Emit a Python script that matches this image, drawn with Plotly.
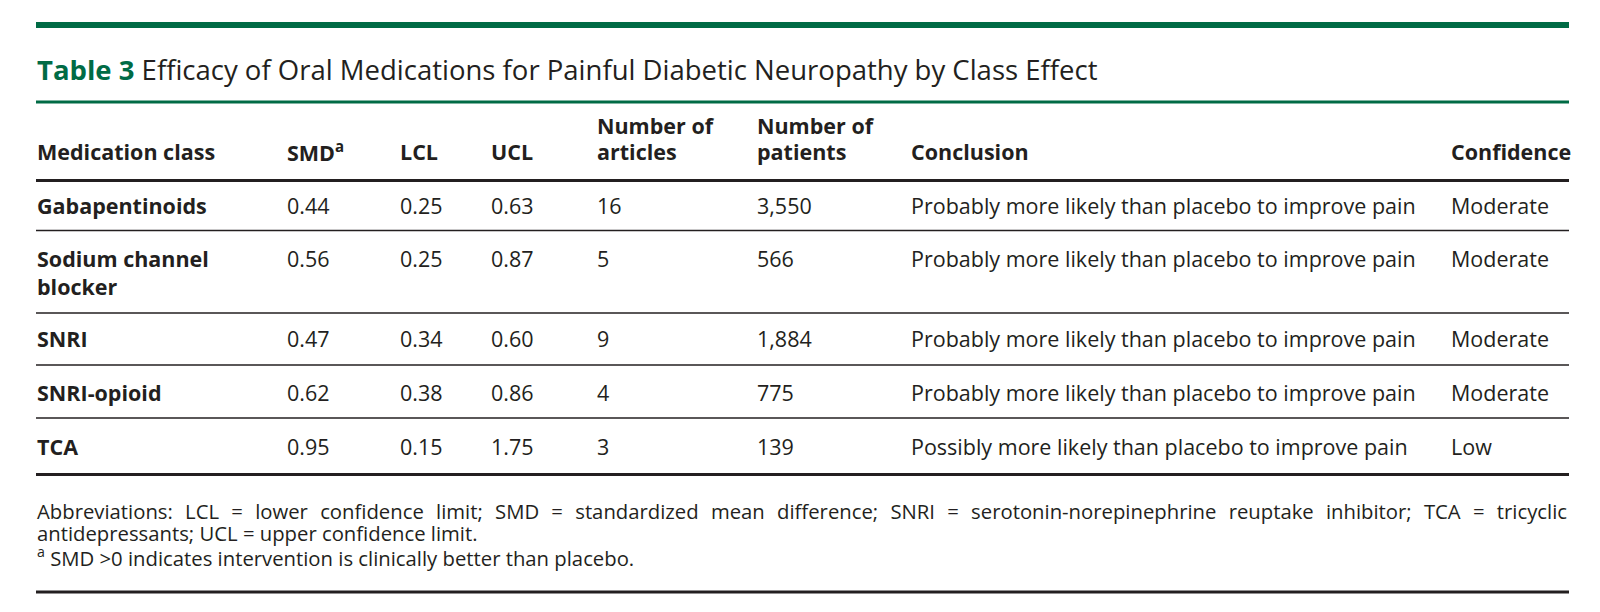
import plotly.graph_objects as go

# ---- data ----
title_label = "Table 3"
title_text = "Efficacy of Oral Medications for Painful Diabetic Neuropathy by Class Effect"
headers = ["Medication class", "SMD<sup>a</sup>", "LCL", "UCL", "Number of<br>articles",
           "Number of<br>patients", "Conclusion", "Confidence"]
med_class = ["Gabapentinoids", "Sodium channel<br>blocker", "SNRI", "SNRI-opioid", "TCA"]
smd = ["0.44", "0.56", "0.47", "0.62", "0.95"]
lcl = ["0.25", "0.25", "0.34", "0.38", "0.15"]
ucl = ["0.63", "0.87", "0.60", "0.86", "1.75"]
n_articles = ["16", "5", "9", "4", "3"]
n_patients = ["3,550", "566", "1,884", "775", "139"]
conclusion = ["Probably more likely than placebo to improve pain"] * 4 + \
             ["Possibly more likely than placebo to improve pain"]
confidence = ["Moderate", "Moderate", "Moderate", "Moderate", "Low"]
footnotes = [
    "Abbreviations: LCL = lower confidence limit; SMD = standardized mean difference; SNRI = serotonin-norepinephrine reuptake inhibitor; TCA = tricyclic",
    "antidepressants; UCL = upper confidence limit.",
    "<sup>a</sup> SMD >0 indicates intervention is clinically better than placebo.",
]

# ---- layout constants ----
W, H = 1600, 612
OFF = 8  # default page body margin
FONT = "Open Sans"
GREEN = "#006b45"
INK = "#231f20"
FS = 21.5
FS_FOOT = 20.3
col_x = [36, 286, 399, 490, 596, 756, 910, 1450]
x_left, x_right = 36, 1569
header_y = 151
header_lh = 25.5
row_lh = 28
row_y = [205, 258, 338, 392, 446]
foot_y = [511, 533, 557]

fig = go.Figure()
fig.add_trace(go.Scatter(x=[OFF, W], y=[OFF, H], mode="markers", marker=dict(opacity=0),
                         hoverinfo="skip", showlegend=False))

ann = []


def add_text(x, y, text, size=FS, bold=False, color=INK, style=None):
    t = f"<b>{text}</b>" if bold else text
    if style:
        t = f"<span style='{style}'>{t}</span>"
    ann.append(dict(x=x, y=y, text=t, xref="x", yref="y", xanchor="left",
                    yanchor="middle", showarrow=False, align="left",
                    font=dict(family=FONT, size=size, color=color), borderpad=0))


def add_multi(x, y_first, text, lh, bold=False):
    for i, line in enumerate(text.split("<br>")):
        add_text(x, y_first + i * lh, line, bold=bold)


# title
add_text(x_left, 69, f"<b><span style='color:{GREEN}'>{title_label}</span></b> {title_text}",
         size=27.5)

# headers (last line aligned on header_y)
for x, h in zip(col_x, headers):
    n = h.count("<br>") + 1
    add_multi(x, header_y - (n - 1) * header_lh, h, header_lh, bold=True)

# rows
columns = [med_class, smd, lcl, ucl, n_articles, n_patients, conclusion, confidence]
for ci, (x, col) in enumerate(zip(col_x, columns)):
    for y, v in zip(row_y, col):
        add_multi(x, y, v, row_lh, bold=(ci == 0))

# footnotes (first line justified)
for i, (y, f) in enumerate(zip(foot_y, footnotes)):
    add_text(x_left, y, f, size=FS_FOOT, style="word-spacing:7px" if i == 0 else None)

# rules
shapes = [
    dict(type="rect", x0=x_left, x1=x_right, y0=22, y1=28, fillcolor=GREEN, line_width=0),
    dict(type="line", x0=x_left, x1=x_right, y0=102, y1=102, line=dict(color=GREEN, width=3)),
    dict(type="line", x0=x_left, x1=x_right, y0=180.5, y1=180.5, line=dict(color=INK, width=3)),
    dict(type="line", x0=x_left, x1=x_right, y0=474.5, y1=474.5, line=dict(color=INK, width=3)),
    dict(type="line", x0=x_left, x1=x_right, y0=592, y1=592, line=dict(color=INK, width=3)),
]
for y in [230.5, 313, 365, 418]:
    shapes.append(dict(type="line", x0=x_left, x1=x_right, y0=y, y1=y,
                       line=dict(color=INK, width=1.5)))
for s in shapes:
    s.update(xref="x", yref="y")

fig.update_layout(
    width=W, height=H, margin=dict(l=0, r=0, t=0, b=0),
    paper_bgcolor="white", plot_bgcolor="white",
    xaxis=dict(range=[OFF, W + OFF], visible=False, fixedrange=True),
    yaxis=dict(range=[H + OFF, OFF], visible=False, fixedrange=True),
    annotations=ann, shapes=shapes, showlegend=False,
)
fig.write_html("out.html")
